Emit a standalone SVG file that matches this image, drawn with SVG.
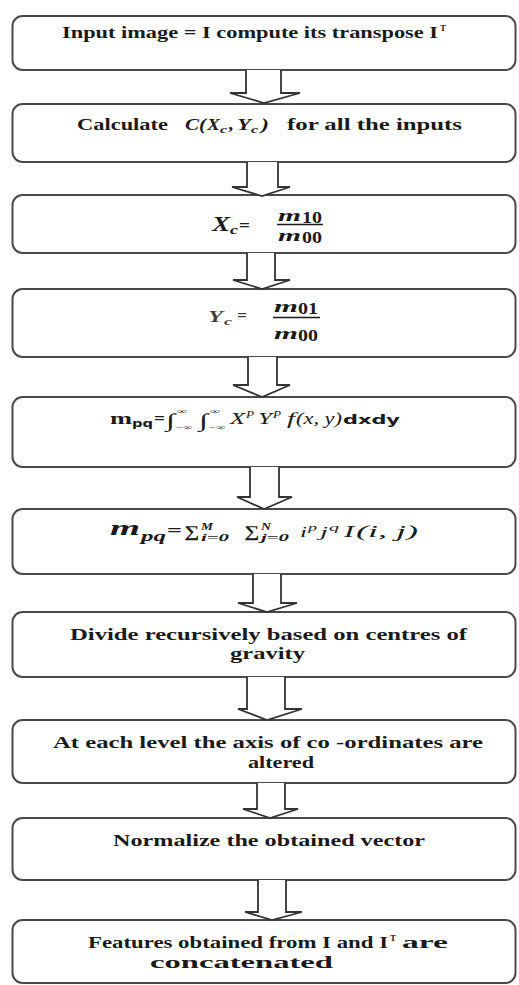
<svg xmlns="http://www.w3.org/2000/svg" width="519" height="985" viewBox="0 0 519 985">
<style>
.box{fill:#fff;stroke:#4a4a4a;stroke-width:2}
.arr{fill:#fff;stroke:#333;stroke-width:1.8;stroke-linejoin:miter}
.t{font-family:"Liberation Serif",serif;font-weight:bold;font-size:16px;fill:#1a1a1a}
.sup{font-family:"Liberation Serif",serif;font-weight:bold;font-size:9px;fill:#1a1a1a}
.mi{font-family:"Liberation Serif",serif;font-style:italic;fill:#1a1a1a}
.mb{font-family:"Liberation Serif",serif;font-style:italic;font-weight:bold;fill:#1a1a1a}
.ss{font-family:"DejaVu Sans",sans-serif;font-weight:bold;fill:#1a1a1a}
</style>
<rect width="519" height="985" fill="#fff"/>
<g id="n1">
<rect class="box" x="12.5" y="16" width="503" height="54" rx="10"/>
<text class="t" x="62" y="38" textLength="376" lengthAdjust="spacingAndGlyphs">Input image = I compute its transpose I</text>
<text class="sup" x="440" y="31" textLength="6" lengthAdjust="spacingAndGlyphs">T</text>
</g>
<g id="n2">
<rect class="box" x="12.5" y="104" width="503" height="58" rx="10"/>
<text class="t" x="77" y="130" textLength="91" lengthAdjust="spacingAndGlyphs">Calculate</text>
<text class="mb" font-size="16" x="185" y="130" textLength="21" lengthAdjust="spacingAndGlyphs">C(</text>
<text class="mb" font-size="16" x="207" y="130" textLength="13" lengthAdjust="spacingAndGlyphs">X</text>
<text class="mb" font-size="10" x="220" y="133" textLength="7" lengthAdjust="spacingAndGlyphs">c</text>
<text class="mb" font-size="16" x="229" y="130" textLength="5" lengthAdjust="spacingAndGlyphs">,</text>
<text class="mb" font-size="16" x="237" y="130" textLength="14" lengthAdjust="spacingAndGlyphs">Y</text>
<text class="mb" font-size="10" x="251" y="133" textLength="7" lengthAdjust="spacingAndGlyphs">c</text>
<text class="mb" font-size="16" x="261" y="130" textLength="8" lengthAdjust="spacingAndGlyphs">)</text>
<text class="t" x="287" y="130" textLength="175" lengthAdjust="spacingAndGlyphs">for all the inputs</text>
</g>
<g id="n3">
<rect class="box" x="12.5" y="195" width="503" height="58" rx="10"/>
<text class="mb" font-size="22" x="212" y="231" textLength="18" lengthAdjust="spacingAndGlyphs">X</text>
<text class="mb" font-size="13" x="230" y="234" textLength="8" lengthAdjust="spacingAndGlyphs">c</text>
<text class="t" font-size="16" x="239" y="231" textLength="11" lengthAdjust="spacingAndGlyphs">=</text>
<text class="mb" font-size="17" x="278" y="221" textLength="23" lengthAdjust="spacingAndGlyphs">m</text>
<text class="t" font-size="12" x="302" y="223" textLength="20" lengthAdjust="spacingAndGlyphs">10</text>
<line x1="277" y1="224.5" x2="323" y2="224.5" stroke="#1a1a1a" stroke-width="1.6"/>
<text class="mb" font-size="17" x="278" y="241" textLength="23" lengthAdjust="spacingAndGlyphs">m</text>
<text class="t" font-size="12" x="302" y="243" textLength="20" lengthAdjust="spacingAndGlyphs">00</text>
</g>
<g id="n4">
<rect class="box" x="12.5" y="289" width="503" height="68" rx="10"/>
<text class="mb" font-size="16" x="208" y="322" textLength="15" lengthAdjust="spacingAndGlyphs" fill-opacity="0.85">Y</text>
<text class="mb" font-size="11" x="224" y="325" textLength="8" lengthAdjust="spacingAndGlyphs" fill-opacity="0.85">c</text>
<text class="t" font-size="14" x="237" y="321" textLength="10" lengthAdjust="spacingAndGlyphs" fill-opacity="0.85">=</text>
<text class="mb" font-size="17" x="274" y="312" textLength="24" lengthAdjust="spacingAndGlyphs">m</text>
<text class="t" font-size="12" x="298" y="314" textLength="20" lengthAdjust="spacingAndGlyphs">01</text>
<line x1="273" y1="317.5" x2="320" y2="317.5" stroke="#1a1a1a" stroke-width="1.6"/>
<text class="mb" font-size="17" x="274" y="339" textLength="24" lengthAdjust="spacingAndGlyphs">m</text>
<text class="t" font-size="12" x="298" y="341" textLength="20" lengthAdjust="spacingAndGlyphs">00</text>
</g>
<g id="n5">
<rect class="box" x="12.5" y="397" width="503" height="70" rx="10"/>
<text class="t" font-size="17" x="110" y="424" textLength="22" lengthAdjust="spacingAndGlyphs">m</text>
<text class="ss" font-size="10" x="132" y="427" textLength="21" lengthAdjust="spacingAndGlyphs">pq</text>
<text class="t" font-size="14" x="154" y="424" textLength="11" lengthAdjust="spacingAndGlyphs">=</text>
<text class="mi" font-size="19" x="166" y="427" textLength="9" lengthAdjust="spacingAndGlyphs">∫</text>
<text class="mi" font-size="8" x="177" y="414" textLength="10" lengthAdjust="spacingAndGlyphs">∞</text>
<text class="mi" font-size="8" x="175" y="430" textLength="17" lengthAdjust="spacingAndGlyphs">−∞</text>
<text class="mi" font-size="19" x="199" y="427" textLength="9" lengthAdjust="spacingAndGlyphs">∫</text>
<text class="mi" font-size="8" x="210" y="414" textLength="10" lengthAdjust="spacingAndGlyphs">∞</text>
<text class="mi" font-size="8" x="208" y="430" textLength="17" lengthAdjust="spacingAndGlyphs">−∞</text>
<text class="mi" font-size="16" x="230" y="424" textLength="15" lengthAdjust="spacingAndGlyphs">X</text>
<text class="mi" font-size="10" x="246" y="418" textLength="8" lengthAdjust="spacingAndGlyphs">P</text>
<text class="mi" font-size="16" x="258" y="424" textLength="14" lengthAdjust="spacingAndGlyphs">Y</text>
<text class="mi" font-size="10" x="273" y="418" textLength="8" lengthAdjust="spacingAndGlyphs">P</text>
<text class="mi" font-size="16" x="287" y="424" textLength="8" lengthAdjust="spacingAndGlyphs">f</text>
<text class="mi" font-size="16" x="296" y="424" textLength="46" lengthAdjust="spacingAndGlyphs">(x, y)</text>
<text class="ss" font-size="12" x="343" y="424" textLength="57" lengthAdjust="spacingAndGlyphs">dxdy</text>
</g>
<g id="n6">
<rect class="box" x="12.5" y="509" width="503" height="65" rx="10"/>
<text class="mb" font-size="22" x="110" y="535" textLength="30" lengthAdjust="spacingAndGlyphs">m</text>
<text class="mb" font-size="15" x="141" y="541" textLength="25" lengthAdjust="spacingAndGlyphs">pq</text>
<text class="t" font-size="16" x="167" y="536" textLength="15" lengthAdjust="spacingAndGlyphs">=</text>
<text class="t" font-size="16" x="184" y="537" textLength="15" lengthAdjust="spacingAndGlyphs">∑</text>
<text class="mb" font-size="11" x="201" y="530" textLength="12" lengthAdjust="spacingAndGlyphs">M</text>
<text class="mb" font-size="11" x="201" y="541" textLength="28" lengthAdjust="spacingAndGlyphs">i=0</text>
<text class="t" font-size="16" x="244" y="537" textLength="15" lengthAdjust="spacingAndGlyphs">∑</text>
<text class="mb" font-size="11" x="261" y="530" textLength="10" lengthAdjust="spacingAndGlyphs">N</text>
<text class="mb" font-size="11" x="261" y="541" textLength="28" lengthAdjust="spacingAndGlyphs">j=0</text>
<text class="mi" font-size="15" x="300" y="537" textLength="7" lengthAdjust="spacingAndGlyphs">i</text>
<text class="mi" font-size="11" x="308" y="531" textLength="9" lengthAdjust="spacingAndGlyphs">p</text>
<text class="mi" font-size="15" x="320" y="537" textLength="8" lengthAdjust="spacingAndGlyphs">j</text>
<text class="mi" font-size="11" x="329" y="531" textLength="10" lengthAdjust="spacingAndGlyphs">q</text>
<text class="mi" font-size="16" x="344" y="537" textLength="10" lengthAdjust="spacingAndGlyphs">I</text>
<text class="mi" font-size="16" x="356" y="537" textLength="62" lengthAdjust="spacingAndGlyphs">(i, j)</text>
</g>
<g id="n7">
<rect class="box" x="12.5" y="612" width="503" height="65" rx="10"/>
<text class="t" x="70" y="640" textLength="397" lengthAdjust="spacingAndGlyphs">Divide recursively based on centres of</text>
<text class="t" x="230" y="659" textLength="75" lengthAdjust="spacingAndGlyphs">gravity</text>
</g>
<g id="n8">
<rect class="box" x="12.5" y="720" width="503" height="63" rx="10"/>
<text class="t" x="53" y="748" textLength="430" lengthAdjust="spacingAndGlyphs">At each level the axis of co -ordinates are</text>
<text class="t" x="248" y="768" textLength="66" lengthAdjust="spacingAndGlyphs">altered</text>
</g>
<g id="n9">
<rect class="box" x="12.5" y="818" width="503" height="62" rx="10"/>
<text class="t" x="113" y="846" textLength="312" lengthAdjust="spacingAndGlyphs">Normalize the obtained vector</text>
</g>
<g id="n10">
<rect class="box" x="12.5" y="920" width="503" height="63" rx="10"/>
<text class="t" x="88" y="948" textLength="300" lengthAdjust="spacingAndGlyphs">Features obtained from I and I</text>
<text class="sup" x="390" y="941" textLength="6" lengthAdjust="spacingAndGlyphs">T</text>
<text class="t" x="402" y="948" textLength="46" lengthAdjust="spacingAndGlyphs">are</text>
<text class="t" x="150" y="968" textLength="183" lengthAdjust="spacingAndGlyphs">concatenated</text>
</g>
<g id="connectors">
<path class="arr" d="M246,70 V93 H230 L264,103 L300,93 H281 V70"/>
<path class="arr" d="M247,162 V187 H232 L262,196 L290,187 H278 V162"/>
<path class="arr" d="M247,253 V280 H233 L262,289 L290,280 H275 V253"/>
<path class="arr" d="M248,357 V385 H233 L262,397 L290,385 H277 V357"/>
<path class="arr" d="M250,467 V497 H237 L264,509 L292,497 H279 V467"/>
<path class="arr" d="M253,574 V603 H238 L267,612 L297,603 H281 V574"/>
<path class="arr" d="M247,677 V709 H238 L267,720 L302,709 H285 V677"/>
<path class="arr" d="M257,783 V809 H243 L270,818 L298,809 H285 V783"/>
<path class="arr" d="M258,880 V912 H245 L272,920 L302,912 H286 V880"/>
</g>
</svg>
